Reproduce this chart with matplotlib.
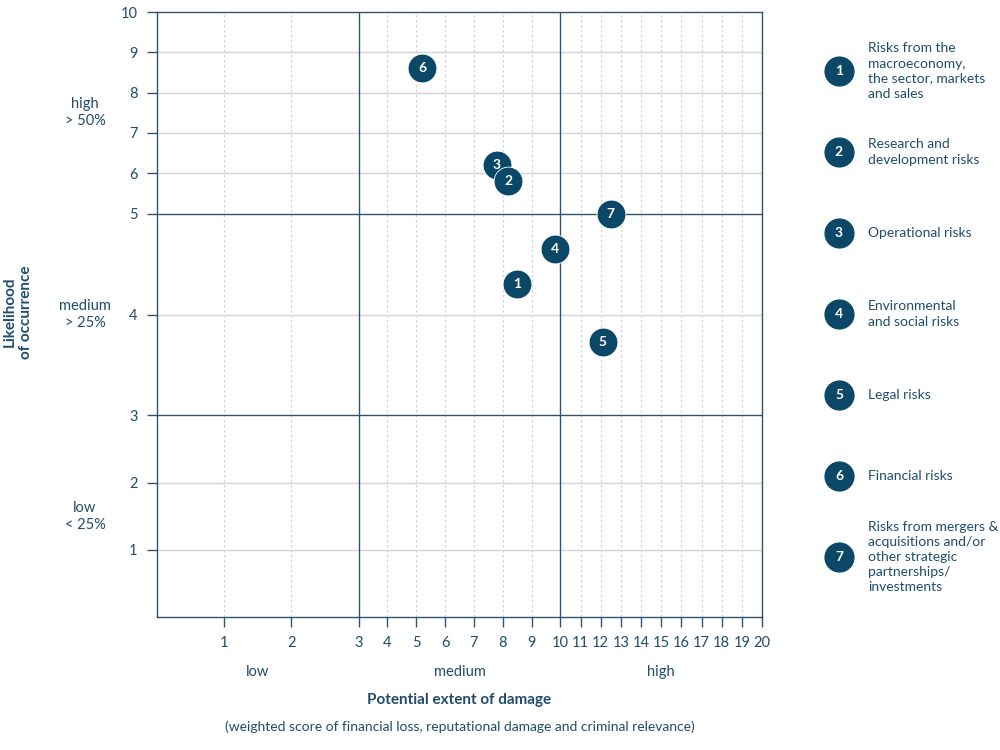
import numpy as np
import matplotlib
matplotlib.use("Agg")
import matplotlib.pyplot as plt

plt.rcParams['font.family'] = ['Lato', 'DejaVu Sans']

# ─────────────────────────────
# Data
# ─────────────────────────────
risk_ids = [1, 2, 3, 4, 5, 6, 7]
damage = [8.5, 8.2, 7.8, 9.8, 12.1, 5.2, 12.5]
likelihood = [4.3, 5.8, 6.2, 4.65, 3.73, 8.6, 5.0]
risk_names = [
    "Risks from the\nmacroeconomy,\nthe sector, markets\nand sales",
    "Research and\ndevelopment risks",
    "Operational risks",
    "Environmental\nand social risks",
    "Legal risks",
    "Financial risks",
    "Risks from mergers &\nacquisitions and/or\nother strategic\npartnerships/\ninvestments",
]

x_ticks = list(range(1, 21))
y_ticks = list(range(1, 11))
x_breaks = [0, 3, 10, 20]
y_breaks = [0, 3, 5, 10]
x_bands = ["low", "medium", "high"]
y_bands = ["low\n< 25%", "medium\n> 25%", "high\n> 50%"]

# ─────────────────────────────
# Style
# ─────────────────────────────
DARK = '#0b4868'
TEXT = '#1f4d6c'
LINE = '#2f5372'
GRID = '#d0d4d8'

# piecewise linear scales: each band gets a third of the axis
thirds = [0, 1, 2, 3]
fx = (lambda v: np.interp(v, x_breaks, thirds), lambda v: np.interp(v, thirds, x_breaks))
fy = (lambda v: np.interp(v, y_breaks, thirds), lambda v: np.interp(v, thirds, y_breaks))

fig = plt.figure(figsize=(10, 7.5), dpi=100)
ax = fig.add_axes([0.157, 1 - 617 / 750, 0.605, 605 / 750])
ax.set_xscale('function', functions=fx)
ax.set_yscale('function', functions=fy)
ax.set_xlim(0, 20)
ax.set_ylim(0, 10)

# grid
for v in x_ticks:
    if v in x_breaks:
        continue
    ax.axvline(v, color=GRID, lw=0.9, ls=(0, (2, 2)), zorder=0)
for v in y_ticks:
    if v in y_breaks:
        continue
    ax.axhline(v, color=GRID, lw=1.0, zorder=0)
for v in x_breaks[1:-1]:
    ax.axvline(v, color=LINE, lw=1.0, zorder=1)
for v in y_breaks[1:-1]:
    ax.axhline(v, color=LINE, lw=1.0, zorder=1)

for s in ax.spines.values():
    s.set_color(LINE)
    s.set_linewidth(1.0)

ax.set_xticks(x_ticks)
ax.set_yticks(y_ticks)
ax.minorticks_off()
ax.tick_params(axis='both', colors=LINE, labelcolor=TEXT, labelsize=10.5,
               length=7, width=1.0, pad=7)

# points (reverse order so 2 sits over 3)
for i in reversed(range(len(risk_ids))):
    ax.scatter(damage[i], likelihood[i], s=430, color=DARK, edgecolors='white',
               linewidths=0.6, zorder=5)
    ax.text(damage[i], likelihood[i], str(risk_ids[i]), color='white',
            fontsize=10, fontweight='bold', ha='center', va='center', zorder=6)

# band labels
trans_y = ax.get_yaxis_transform()
for i, lab in enumerate(y_bands):
    mid = (y_breaks[i] + y_breaks[i + 1]) / 2
    ax.text(-0.119, mid, lab, transform=trans_y, ha='center', va='center',
            fontsize=10.5, color=TEXT, linespacing=1.3)
trans_x = ax.get_xaxis_transform()
for i, lab in enumerate(x_bands):
    mid = (x_breaks[i] + x_breaks[i + 1]) / 2
    ax.text(mid, -0.091, lab, transform=trans_x, ha='center', va='center',
            fontsize=10.5, color=TEXT)

ax.text(0.5, -0.137, "Potential extent of damage", transform=ax.transAxes,
        ha='center', va='center', fontsize=11, fontweight='bold', color=TEXT)
ax.text(0.5, -0.182, "(weighted score of financial loss, reputational damage and criminal relevance)",
        transform=ax.transAxes, ha='center', va='center', fontsize=10, color=TEXT)
fig.text(0.018, 1 - 312 / 750, "Likelihood\nof occurrence", rotation=90,
         ha='center', va='center', fontsize=11, fontweight='bold', color=TEXT,
         linespacing=1.2)

# ─────────────────────────────
# Legend on the right
# ─────────────────────────────
leg = fig.add_axes([0, 0, 1, 1], facecolor='none')
leg.set_xlim(0, 1000)
leg.set_ylim(750, 0)
leg.axis('off')
for i, rid in enumerate(risk_ids):
    yy = 71 + 81 * i
    leg.scatter(839, yy, s=430, color=DARK, zorder=5)
    leg.text(839, yy, str(rid), color='white', fontsize=10, fontweight='bold',
             ha='center', va='center', zorder=6)
    leg.text(868, yy, risk_names[i], color=TEXT, fontsize=10, ha='left',
             va='center', linespacing=1.3)

fig.savefig("out.png", dpi=100)
